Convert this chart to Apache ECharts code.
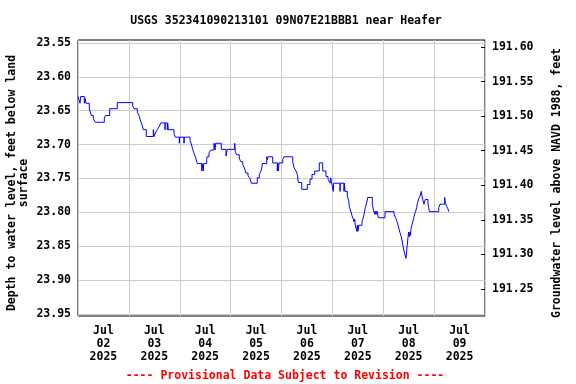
<!DOCTYPE html>
<html>
<head>
<meta charset="utf-8">
<script src="https://cdn.jsdelivr.net/npm/echarts@6/dist/echarts.min.js"></script>
<style>
  html, body { margin: 0; padding: 0; background: #fff; }
  #chart { width: 576px; height: 384px; }
</style>
</head>
<body>
<div id="chart"></div>
<script>
// hours since 2025-07-02 00:00, depth below land surface (ft)
const hours = [
    0, 0.94, 1.27, 2.97, 3.44, 3.77, 5.33, 6.27, 7.22, 8.16, 12.41, 12.88, 14.95, 18.54,
    25.80, 26.42, 27.97, 28.78, 29.25, 29.72, 30.33, 30.80, 32.22, 35.52, 35.99, 36.47,
    37.41, 38.35, 39.01, 41.04, 41.18, 42.13, 42.31, 42.60, 45.29, 45.90, 47.79, 47.98,
    50.00, 50.15, 52.83, 53.45, 54.11, 54.72, 55.34, 56.28, 58.35, 58.50, 59.11, 59.30,
    60.71, 60.85, 61.80, 62.74, 64.16, 64.63, 64.96, 67.60, 69.82, 70.43, 73.92, 74.20,
    74.87, 76.09, 76.75, 77.70, 78.64, 79.25, 80.20, 81.14, 81.75, 84.58, 85.53, 86.33,
    86.80, 86.94, 89.02, 89.39, 89.63, 91.85, 94.02, 94.21, 94.49, 94.82, 96.57, 97.18,
    101.28, 101.90, 102.84, 103.46, 103.93, 105.53, 108.17, 109.44, 110.39, 111.66, 113.83,
    115.43, 116.99, 117.94, 118.88, 119.21, 119.68, 120.44, 120.62, 123.60, 123.74, 125.48,
    125.63, 125.96, 127.04, 127.70, 127.98, 128.65, 129.26, 129.87, 130.20, 130.53, 130.81,
    131.47, 131.76, 132.09, 132.42, 133.97, 134.59, 135.25, 135.53, 136.19, 136.66, 138.83,
    139.49, 139.97, 140.25, 140.58, 141.05, 141.67, 144.82, 149.07, 150.01, 150.63, 151.29,
    151.90, 152.52, 153.18, 153.79, 154.73, 155.06, 155.67, 156.00, 156.29, 156.62, 156.90,
    157.09, 157.56, 158.18, 158.50, 159.12, 159.78, 160.06, 160.72, 161.33, 161.95, 162.28,
    162.61, 163.22, 163.84, 165.11, 165.44, 165.72, 170.16, 170.77, 172.99, 173.27, 173.93,
    174.55, 174.88, 175.16
];
const depth = [
    23.629, 23.639, 23.629, 23.639, 23.632, 23.639, 23.647, 23.657, 23.662, 23.667, 23.662, 23.657, 23.647, 23.638,
    23.643, 23.647, 23.652, 23.657, 23.662, 23.667, 23.672, 23.678, 23.688, 23.678, 23.688, 23.683,
    23.678, 23.673, 23.668, 23.678, 23.668, 23.678, 23.668, 23.678, 23.684, 23.689, 23.698, 23.689,
    23.698, 23.689, 23.694, 23.699, 23.707, 23.713, 23.718, 23.728, 23.739, 23.728, 23.739, 23.728,
    23.722, 23.718, 23.712, 23.708, 23.698, 23.708, 23.698, 23.707, 23.717, 23.707, 23.698, 23.710,
    23.715, 23.720, 23.725, 23.729, 23.736, 23.742, 23.746, 23.750, 23.757, 23.749, 23.744, 23.739,
    23.733, 23.728, 23.718, 23.722, 23.718, 23.727, 23.739, 23.727, 23.739, 23.727, 23.722, 23.718,
    23.725, 23.734, 23.739, 23.744, 23.756, 23.766, 23.759, 23.751, 23.744, 23.739, 23.727,
    23.739, 23.747, 23.751, 23.757, 23.749, 23.757, 23.769, 23.757, 23.769, 23.757, 23.769,
    23.757, 23.769, 23.776, 23.783, 23.791, 23.798, 23.805, 23.810, 23.814, 23.810, 23.819,
    23.828, 23.819, 23.828, 23.819, 23.813, 23.808, 23.798, 23.793, 23.786, 23.778, 23.788,
    23.798, 23.803, 23.798, 23.803, 23.798, 23.808, 23.799, 23.803, 23.809, 23.815, 23.823,
    23.830, 23.836, 23.847, 23.857, 23.868, 23.857, 23.837, 23.829, 23.836, 23.829, 23.834,
    23.824, 23.818, 23.811, 23.806, 23.800, 23.793, 23.787, 23.780, 23.776, 23.769, 23.776,
    23.781, 23.788, 23.781, 23.788, 23.793, 23.799, 23.793, 23.788, 23.778, 23.786, 23.791,
    23.795, 23.799, 23.799
];

const depthTicks = [23.55, 23.60, 23.65, 23.70, 23.75, 23.80, 23.85, 23.90, 23.95];
const elevTicks = [191.60, 191.55, 191.50, 191.45, 191.40, 191.35, 191.30, 191.25];
const dayLabels = ["02", "03", "04", "05", "06", "07", "08", "09"];
const labelHours = dayLabels.map((d, i) => 12 + i * 24);

const mono = "DejaVu Sans Mono";
const chart = echarts.init(document.getElementById("chart"), null, { renderer: "canvas" });

chart.setOption({
    animation: false,
    backgroundColor: "#fff",
    title: [
        {
            text: "USGS 352341090213101 09N07E21BBB1 near Heafer",
            left: 281,
            top: 10,
            textAlign: "center",
            textStyle: { fontFamily: mono, fontSize: 11.5, fontWeight: "bold", color: "#000" }
        },
        {
            text: "---- Provisional Data Subject to Revision ----",
            left: 280,
            top: 365,
            textAlign: "center",
            textStyle: { fontFamily: mono, fontSize: 11.5, fontWeight: "bold", color: "#ff0000" }
        }
    ],
    grid: {
        left: 78,
        right: 91,
        top: 40,
        bottom: 68,
        show: true,
        borderColor: "#000",
        borderWidth: 1,
        containLabel: false,
        outerBoundsMode: "none"
    },
    xAxis: {
        type: "value",
        min: 0,
        max: 192,
        interval: 24,
        axisLine: { show: false },
        axisTick: { show: false },
        splitLine: { show: true, lineStyle: { color: "#cccccc", width: 1 } },
        axisLabel: {
            customValues: labelHours,
            margin: 9,
            lineHeight: 13,
            fontFamily: mono,
            fontSize: 11.5,
            fontWeight: "bold",
            color: "#000",
            formatter: (v) => "Jul\n" + dayLabels[Math.round((v - 12) / 24)] + "\n2025"
        }
    },
    yAxis: [
        {
            type: "value",
            inverse: true,
            min: 23.5456,
            max: 23.953,
            position: "left",
            name: "Depth to water level, feet below land\nsurface",
            nameLocation: "middle",
            nameRotate: 90,
            nameGap: 48,
            nameMoveOverlap: false,
            nameTextStyle: {
                fontFamily: mono, fontSize: 11.5, fontWeight: "bold", color: "#000",
                lineHeight: 12, padding: [0, 10, 0, 0]
            },
            axisLine: { show: false },
            axisTick: { show: false, customValues: depthTicks },
            splitLine: { show: true, lineStyle: { color: "#cccccc", width: 1 } },
            axisLabel: {
                customValues: depthTicks,
                margin: 7,
                fontFamily: mono,
                fontSize: 11.5,
                fontWeight: "bold",
                color: "#000",
                formatter: (v) => v.toFixed(2)
            }
        },
        {
            type: "value",
            min: 191.2109,
            max: 191.6101,
            position: "right",
            name: "Groundwater level above NAVD 1988, feet",
            nameLocation: "middle",
            nameRotate: 90,
            nameGap: 66,
            nameMoveOverlap: false,
            nameTextStyle: {
                fontFamily: mono, fontSize: 11.5, fontWeight: "bold", color: "#000",
                padding: [0, 10, 0, 0]
            },
            axisLine: { show: false },
            axisTick: {
                show: true,
                inside: true,
                length: 4,
                customValues: elevTicks,
                lineStyle: { color: "#000" }
            },
            splitLine: { show: false },
            axisLabel: {
                customValues: elevTicks,
                margin: 7,
                fontFamily: mono,
                fontSize: 11.5,
                fontWeight: "bold",
                color: "#000",
                formatter: (v) => v.toFixed(2)
            }
        }
    ],
    series: [
        {
            type: "line",
            yAxisIndex: 0,
            step: "end",
            showSymbol: false,
            lineStyle: { color: "#0000ff", width: 1 },
            data: hours.map((h, i) => [h, depth[i]])
        }
    ]
});
</script>
</body>
</html>
